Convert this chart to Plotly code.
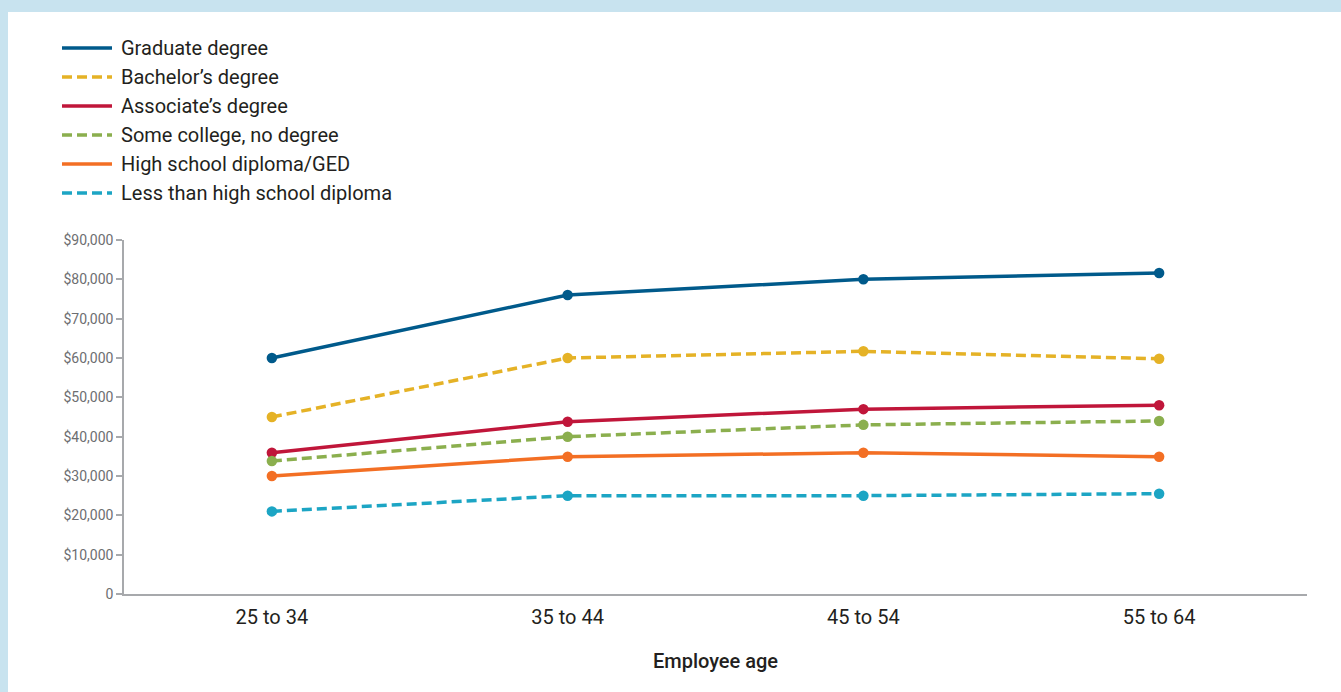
import plotly.graph_objects as go

# ---- data ----
age_groups = ["25 to 34", "35 to 44", "45 to 54", "55 to 64"]
series_names = [
    "Graduate degree",
    "Bachelor\u2019s degree",
    "Associate\u2019s degree",
    "Some college, no degree",
    "High school diploma/GED",
    "Less than high school diploma",
]
graduate = [60000, 76000, 80000, 81600]
bachelor = [45000, 60000, 61700, 59800]
associate = [35900, 43800, 47000, 48000]
some_college = [33800, 40000, 43000, 44000]
high_school = [30000, 34900, 35900, 34900]
less_than_hs = [21000, 25000, 25000, 25500]
y_tick_values = [0, 10000, 20000, 30000, 40000, 50000, 60000, 70000, 80000, 90000]
y_tick_labels = ["0", "$10,000", "$20,000", "$30,000", "$40,000", "$50,000",
                 "$60,000", "$70,000", "$80,000", "$90,000"]

# ---- styles ----
colors = ["#005A8B", "#E5B226", "#C0163A", "#8BAF4E", "#F36F24", "#1CA5C4"]
dashes = ["solid", "10px,5px", "solid", "10px,5px", "solid", "10px,5px"]
all_values = [graduate, bachelor, associate, some_college, high_school, less_than_hs]

W, H = 1341, 692
ML, MR, MT, MB = 124, 34, 240, 98
PW, PH = W - ML - MR, H - MT - MB

fig = go.Figure()
for name, vals, c, d in zip(series_names, all_values, colors, dashes):
    fig.add_trace(go.Scatter(
        x=age_groups, y=vals, name=name, mode="lines+markers",
        line=dict(color=c, width=3.5, dash=d),
        marker=dict(color=c, size=10.5),
        showlegend=False, hoverinfo="x+y+name",
    ))

def px_x(px):
    return (px - ML) / PW

def px_y(py):
    return (H - MB - py) / PH

shapes = [
    # white panel inside light-blue frame
    dict(type="rect", xref="paper", yref="paper",
         x0=px_x(8), x1=px_x(W + 5), y0=px_y(H + 5), y1=px_y(12),
         fillcolor="white", line=dict(width=0), layer="below"),
]
annotations = []
row0, row_gap = 48, 29
for i, (name, c, d) in enumerate(zip(series_names, colors, dashes)):
    yy = px_y(row0 + i * row_gap)
    shapes.append(dict(type="line", xref="paper", yref="paper",
                       x0=px_x(62), x1=px_x(112), y0=yy, y1=yy,
                       line=dict(color=c, width=3.5, dash=d)))
    annotations.append(dict(xref="paper", yref="paper", x=px_x(119), y=yy,
                            text=name, showarrow=False, xanchor="left", yanchor="middle",
                            font=dict(family="Roboto", size=20, color="#231F20")))

fig.update_layout(
    width=W, height=H,
    margin=dict(l=ML, r=MR, t=MT, b=MB, autoexpand=False),
    paper_bgcolor="#C8E3EF",
    plot_bgcolor="white",
    shapes=shapes,
    annotations=annotations,
    showlegend=False,
    xaxis=dict(
        type="category", range=[-0.5, 3.5],
        showgrid=False, zeroline=False,
        showline=True, linecolor="#A7A9AC", linewidth=1.5,
        ticks="", tickfont=dict(family="Roboto", size=20, color="#231F20"),
        ticklabelstandoff=4,
        title=dict(text="Employee age", standoff=26,
                   font=dict(family="Roboto", size=20, color="#231F20", weight=500)),
        fixedrange=True,
    ),
    yaxis=dict(
        range=[0, 90000], showgrid=False, zeroline=False,
        showline=True, linecolor="#A7A9AC", linewidth=1.5,
        ticks="outside", ticklen=6, tickcolor="#A7A9AC", tickwidth=1.5,
        tickvals=y_tick_values, ticktext=y_tick_labels,
        tickfont=dict(family="Roboto", size=14, color="#6D6E71"),
        fixedrange=True,
    ),
)

fig.write_html("out.html", config={"displayModeBar": False},
               post_script="document.body.style.margin='0px';document.body.style.overflow='hidden';")
